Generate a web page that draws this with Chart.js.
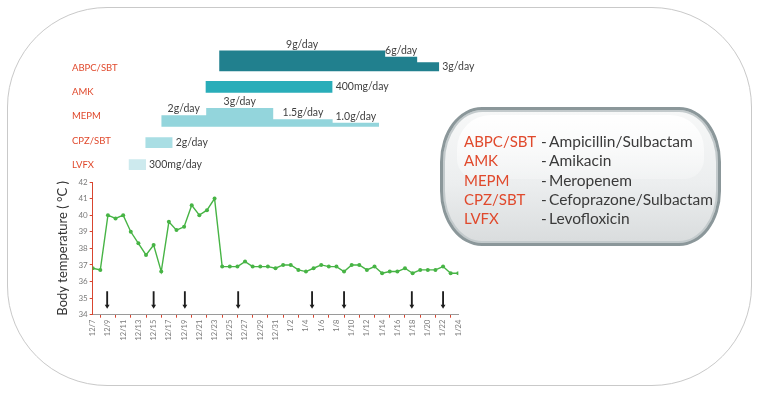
<!DOCTYPE html>
<html>
<head>
<meta charset="utf-8">
<script src="https://cdn.jsdelivr.net/npm/chart.js@4.4.1/dist/chart.umd.min.js"></script>
<style>
  html, body { margin: 0; padding: 0; background: #fff; }
  body { width: 761px; height: 395px; position: relative; overflow: hidden; font-family: Lato, "Open Sans", sans-serif; }
  #frame {
    position: absolute; left: 7px; top: 7px; width: 743px; height: 377px;
    border: 1.5px solid #c9c9c9; border-radius: 100px;
  }
  #wrap { position: absolute; left: 0; top: 0; width: 761px; height: 395px; }
  .legend {
    position: absolute; left: 440px; top: 107px; width: 275px; height: 133px;
    border: 3px solid #8b979a; border-radius: 42px / 55px;
    background: linear-gradient(to bottom, #f7f8f8 0%, #eceeef 55%, #d9dcdd 100%);
    box-shadow: inset 0 0 0 2px #c3cacc;
    box-sizing: content-box;
  }
  .legend::before {
    content: ""; position: absolute; left: 14px; right: 14px; top: 5px; height: 48%;
    border-radius: 34px 34px 20px 20px;
    background: linear-gradient(to bottom, rgba(255,255,255,0.95), rgba(255,255,255,0.25));
  }
  .rows { position: absolute; left: 21px; top: 22px; }
  .row { height: 19.3px; line-height: 19.3px; font-size: 15.5px; white-space: nowrap; }
  .ab { display: inline-block; width: 77px; color: #e0492c; font-size: 15px; }
  .dash { display: inline-block; width: 8px; color: #3a3a3a; }
  .nm { color: #3a3a3a; }
</style>
</head>
<body>
<div id="frame"></div>
<div id="wrap"><canvas id="chart"></canvas></div>
<div class="legend">
  <div class="rows">
    <div class="row"><span class="ab">ABPC/SBT</span><span class="dash">-</span><span class="nm">Ampicillin/Sulbactam</span></div>
    <div class="row"><span class="ab">AMK</span><span class="dash">-</span><span class="nm">Amikacin</span></div>
    <div class="row"><span class="ab">MEPM</span><span class="dash">-</span><span class="nm">Meropenem</span></div>
    <div class="row"><span class="ab">CPZ/SBT</span><span class="dash">-</span><span class="nm">Cefoprazone/Sulbactam</span></div>
    <div class="row"><span class="ab">LVFX</span><span class="dash">-</span><span class="nm">Levofloxicin</span></div>
  </div>
</div>
<script>
// x axis: day index from 12/7 (0) to 1/24 (48)
const tickLabels = [
  "12/7", "12/9", "12/11", "12/13", "12/15", "12/17", "12/19", "12/21", "12/23",
  "12/25", "12/27", "12/29", "12/31", "1/2", "1/4", "1/6", "1/8", "1/10", "1/12",
  "1/14", "1/16", "1/18", "1/20", "1/22", "1/24",
];

// one reading per day
const temps = [
  36.8, 36.7, 40.0, 39.8, 40.0, 39.0, 38.3, 37.6, 38.2, 36.6,
  39.6, 39.1, 39.3, 40.6, 40.0, 40.3, 41.0, 36.9, 36.9, 36.9,
  37.2, 36.9, 36.9, 36.9, 36.8, 37.0, 37.0, 36.7, 36.6, 36.8,
  37.0, 36.9, 36.9, 36.6, 37.0, 37.0, 36.7, 36.9, 36.5, 36.6,
  36.6, 36.8, 36.5, 36.7, 36.7, 36.7, 36.9, 36.5, 36.5,
];

const arrowDays = [1.9, 8.0, 12.1, 19.1, 28.8, 33.0, 41.9, 46.0];
const arrowTop = 35.4;
const arrowHead = 34.52;

const drugNames = ["ABPC/SBT", "AMK", "MEPM", "CPZ/SBT", "LVFX"];

// boundaries in days, dose level per segment (drug axis units), bar base
const abpcDays = [16.6, 38.4, 42.6, 45.5];
const abpcLevel = [5.70, 5.45, 5.22];
const abpcDose = ["9g/day", "6g/day", "3g/day"];
const abpcBase = 4.85;

const amkDays = [14.8, 31.5];
const amkLevel = [4.45];
const amkDose = ["400mg/day"];
const amkBase = 3.97;

const mepmDays = [9.0, 14.9, 23.7, 31.5, 37.6];
const mepmLevel = [3.04, 3.34, 2.88, 2.74];
const mepmDose = ["2g/day", "3g/day", "1.5g/day", "1.0g/day"];
const mepmBase = 2.57;

const cpzDays = [6.9, 10.5];
const cpzLevel = [2.14];
const cpzDose = ["2g/day"];
const cpzBase = 1.70;

const lvfxDays = [4.7, 7.0];
const lvfxLevel = [1.23];
const lvfxDose = ["300mg/day"];
const lvfxBase = 0.79;

const green = "#47b445";
const red = "#d9452f";

const stepData = (days, level) =>
  days.map((d, i) => ({ x: d, y: level[Math.min(i, level.length - 1)] }));

const drugSet = (days, level, base, dose, labelPos, color) => ({
  type: "line",
  yAxisID: "yDrug",
  data: stepData(days, level),
  stepped: "before",
  fill: { value: base },
  backgroundColor: color,
  borderColor: "rgba(0,0,0,0)",
  borderWidth: 0,
  pointRadius: 0,
  dose,
  labelPos,
});

const doseLabels = {
  id: "doseLabels",
  afterDatasetsDraw(chart) {
    const { ctx } = chart;
    const yScale = chart.scales.yDrug;
    ctx.save();
    ctx.font = "10.5px Lato";
    ctx.fillStyle = "#3f3f3f";
    chart.data.datasets.forEach((ds, i) => {
      if (!ds.dose) return;
      const pts = chart.getDatasetMeta(i).data;
      const baseY = yScale.getPixelForValue(ds.fill.value);
      ds.dose.forEach((text, j) => {
        const x0 = pts[j].x;
        const x1 = pts[j + 1].x;
        const top = pts[j].y;
        if (ds.labelPos[j] === "end") {
          ctx.textAlign = "left";
          ctx.textBaseline = "middle";
          ctx.fillText(text, x1 + 3, (top + baseY) / 2);
        } else {
          ctx.textAlign = "center";
          ctx.textBaseline = "alphabetic";
          ctx.fillText(text, (x0 + x1) / 2, top - 3);
        }
      });
    });
    ctx.restore();
  },
};

const ctx = document.getElementById("chart").getContext("2d");
new Chart(ctx, {
  type: "line",
  data: {
    datasets: [
      {
        yAxisID: "y",
        data: temps.map((t, i) => ({ x: i, y: t })),
        borderColor: green,
        borderWidth: 1.4,
        pointRadius: 2,
        pointBackgroundColor: green,
        pointBorderWidth: 0,
        tension: 0,
        fill: false,
      },
      {
        type: "bar",
        yAxisID: "y",
        data: arrowDays.map((d) => ({ x: d, y: [arrowHead, arrowTop] })),
        backgroundColor: "#1e1e1e",
        barThickness: 1.2,
        borderWidth: 0,
      },
      {
        yAxisID: "y",
        data: arrowDays.map((d) => ({ x: d, y: arrowHead })),
        showLine: false,
        pointStyle: "triangle",
        rotation: 180,
        pointRadius: 2.8,
        pointBackgroundColor: "#1e1e1e",
        pointBorderWidth: 0,
      },
      drugSet(abpcDays, abpcLevel, abpcBase, abpcDose, ["top", "top", "end"], "#21808e"),
      drugSet(amkDays, amkLevel, amkBase, amkDose, ["end"], "#29adb9"),
      drugSet(mepmDays, mepmLevel, mepmBase, mepmDose, ["top", "top", "top", "top"], "#93d5dc"),
      drugSet(cpzDays, cpzLevel, cpzBase, cpzDose, ["end"], "#a9dee4"),
      drugSet(lvfxDays, lvfxLevel, lvfxBase, lvfxDose, ["end"], "#cdeaee"),
    ],
  },
  options: {
    responsive: true,
    maintainAspectRatio: false,
    animation: false,
    events: [],
    layout: { padding: { left: 52, right: 302.7, top: 36, bottom: 50.3 } },
    plugins: { legend: { display: false }, tooltip: { enabled: false } },
    scales: {
      x: {
        type: "linear",
        min: 0,
        max: 48,
        offset: false,
        afterFit: (s) => { s.height = 30; },
        border: { color: "#9a9a9a", width: 1 },
        grid: { drawOnChartArea: false, drawTicks: true, tickLength: 3, color: red },
        ticks: {
          stepSize: 2,
          autoSkip: false,
          minRotation: 90,
          maxRotation: 90,
          padding: 2,
          color: "#7a7a7a",
          font: { family: "Lato", size: 7.5 },
          callback: (v) => tickLabels[v / 2],
        },
      },
      y: {
        type: "linear",
        position: "left",
        stack: "left",
        stackWeight: 132.7,
        min: 34,
        max: 42,
        afterFit: (s) => { s.width = 40.7; },
        border: { color: red, width: 1 },
        grid: { drawOnChartArea: false, drawTicks: true, tickLength: 3, color: red },
        ticks: {
          stepSize: 1,
          autoSkip: false,
          padding: 2,
          color: "#7a7a7a",
          font: { family: "Lato", size: 8 },
        },
        title: {
          display: true,
          text: "Body temperature ( °C )",
          color: "#333",
          font: { family: "Lato", size: 13 },
          padding: { top: 3, bottom: 0 },
        },
      },
      yDrug: {
        type: "linear",
        position: "left",
        stack: "left",
        stackWeight: 146,
        min: 0.3,
        max: 6.3,
        afterFit: (s) => { s.width = 40.7; },
        afterBuildTicks: (s) => {
          s.ticks = drugNames.map((_, i) => ({ value: drugNames.length - i }));
        },
        border: { display: false },
        grid: { display: false },
        ticks: {
          mirror: true,
          padding: -20.7,
          color: "#e0492c",
          font: { family: "Lato", size: 9.5 },
          callback: (v) => drugNames[drugNames.length - v],
        },
      },
    },
  },
  plugins: [doseLabels],
});
</script>
</body>
</html>
